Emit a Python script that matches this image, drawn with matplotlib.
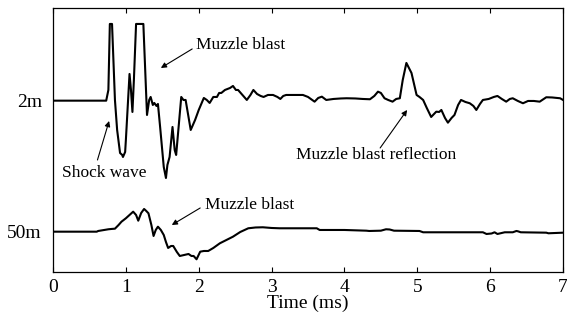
import numpy as np
import matplotlib
matplotlib.use('Agg')
import matplotlib.pyplot as plt

plt.rcParams['font.family'] = ['Liberation Serif', 'DejaVu Serif']

# ── trace at 2 m (time in ms, amplitude relative to baseline) ──
t_2m = [0, 0.73, 0.76, 0.78, 0.81, 0.85, 0.88, 0.92, 0.95, 0.96, 0.99, 1.0,
        1.05, 1.07, 1.09, 1.11, 1.14, 1.24, 1.27, 1.29, 1.32, 1.34, 1.37, 1.39,
        1.42, 1.44, 1.47, 1.52, 1.55, 1.57, 1.6, 1.64, 1.67, 1.69, 1.72, 1.76,
        1.79, 1.82, 1.85, 1.89, 1.92, 1.95, 2.0, 2.04, 2.07, 2.11, 2.15, 2.2,
        2.25, 2.28, 2.31, 2.36, 2.43, 2.47, 2.51, 2.54, 2.6, 2.66, 2.71, 2.75,
        2.8, 2.85, 2.89, 2.95, 3.02, 3.08, 3.12, 3.16, 3.2, 3.3, 3.43, 3.5,
        3.59, 3.64, 3.69, 3.75, 3.85, 3.95, 4.03, 4.15, 4.25, 4.35, 4.41, 4.46,
        4.5, 4.55, 4.6, 4.66, 4.71, 4.76, 4.8, 4.85, 4.92, 4.99, 5.03, 5.08,
        5.13, 5.19, 5.26, 5.3, 5.33, 5.38, 5.42, 5.47, 5.51, 5.56, 5.6, 5.66,
        5.72, 5.77, 5.81, 5.86, 5.9, 5.98, 6.05, 6.1, 6.16, 6.22, 6.27, 6.31,
        6.38, 6.45, 6.52, 6.6, 6.68, 6.77, 6.85, 6.96, 7.0]
a_2m = [0, 0, 10.7, 76.7, 76.7, 0.7, -29.3, -52.3, -54.3, -56.3, -51.3, -39.3,
        26.7, 10.7, -11.3, 20.7, 76.7, 76.7, 20.7, -14.3, 0.7, 3.7, -4.3, -2.3,
        -5.3, -3.3, -26.3, -66.3, -77.3, -64.3, -56.3, -26.3, -49.3, -54.3, -29.3, 3.7,
        0.7, 0.7, -12.3, -29.3, -24.3, -19.3, -9.3, -2.3, 2.7, 0.7, -2.3, 3.7,
        3.7, 7.7, 7.7, 10.7, 12.7, 14.7, 10.7, 10.7, 5.7, 0.7, 5.7, 10.7,
        6.7, 4.7, 3.7, 5.7, 5.7, 3.7, 1.7, 4.7, 5.7, 5.7, 5.7, 3.7,
        -1.0, 2.7, 4.0, 0.7, 1.7, 2.2, 2.4, 2.2, 1.7, 1.4, 4.7, 9.0,
        7.7, 2.4, 0.7, -1.0, 1.7, 2.4, 20.7, 37.7, 27.7, 5.7, 3.7, 0.7,
        -7.3, -16.3, -11.0, -11.3, -9.3, -17.3, -22.0, -17.3, -14.3, -4.3, 0.7, -1.3,
        -2.6, -5.3, -9.3, -3.3, 0.7, 1.7, 3.7, 4.7, 1.7, -1.0, 1.7, 2.4,
        -0.3, -2.6, -0.3, -0.3, -1.0, 3.4, 3.2, 2.4, 0.7]

# ── trace at 50 m ──
t_50m = [0, 0.6, 0.62, 0.76, 0.8, 0.85, 0.9, 0.94, 1.0, 1.05, 1.1, 1.14,
         1.17, 1.21, 1.25, 1.28, 1.31, 1.35, 1.38, 1.41, 1.44, 1.48, 1.52, 1.55,
         1.58, 1.62, 1.65, 1.7, 1.74, 1.8, 1.86, 1.9, 1.93, 1.97, 2.02, 2.07,
         2.13, 2.2, 2.29, 2.38, 2.47, 2.57, 2.68, 2.78, 2.88, 3.0, 3.11, 3.25,
         3.62, 3.66, 4.0, 4.3, 4.34, 4.5, 4.57, 4.62, 4.68, 5.03, 5.08, 5.5,
         5.9, 5.95, 6.02, 6.06, 6.1, 6.2, 6.31, 6.36, 6.38, 6.42, 6.77, 6.8, 7.0]
a_50m = [0, 0, 0.7, 2.4, 2.7, 3.0, 6.7, 10.0, 13.4, 16.7, 20.0, 16.7,
         11.0, 18.7, 22.7, 20.7, 18.4, 6.7, -4.3, 1.7, 5.0, 1.7, -3.3, -10.3,
         -16.3, -14.3, -14.3, -20.3, -24.3, -23.3, -22.3, -24.3, -24.3, -27.6, -20.0, -19.3,
         -19.3, -16.3, -11.6, -8.3, -5.0, -0.3, 3.4, 4.2, 4.4, 3.7, 3.4, 3.4,
         3.4, 1.7, 1.7, 1.0, 0.7, 1.0, 2.4, 2.2, 1.0, 0.7, -0.6, -0.6,
         -0.6, -2.3, -1.8, -0.6, -2.3, -0.6, -0.6, 0.7, 0.4, -0.6, -1.0, -1.6, -1.0]

OFF_2M, OFF_50M = 171.3, 40.3
xticks = [0, 1, 2, 3, 4, 5, 6, 7]

fig = plt.figure(figsize=(5.67, 3.18), dpi=100)
ax = fig.add_axes([0.0935, 0.1447, 0.8995, 0.8303])
ax.plot(t_2m, np.array(a_2m) + OFF_2M, color='k', lw=1.5)
ax.plot(t_50m, np.array(a_50m) + OFF_50M, color='k', lw=1.5)
ax.set_xlim(0, 7)
ax.set_ylim(0, 264)
ax.set_xticks(xticks)
ax.set_yticks([OFF_2M, OFF_50M])
ax.set_yticklabels(['2m', '50m'])
ax.tick_params(axis='x', direction='in', length=3.6, width=0.8, top=True,
               labelsize=14, pad=5)
ax.tick_params(axis='y', length=0, labelsize=14, pad=8)
for s in ax.spines.values():
    s.set_linewidth(0.9)
ax.set_xlabel('Time (ms)', fontsize=14, labelpad=-1)

arr = dict(arrowstyle='-|>', color='k', lw=0.8, mutation_scale=8,
           shrinkA=0, shrinkB=0)
ax.annotate('', xy=(1.48, 204), xytext=(1.91, 223), arrowprops=arr)
ax.text(2.57, 227, 'Muzzle blast', fontsize=12.5, ha='center', va='center')
ax.annotate('', xy=(0.77, 151), xytext=(0.61, 112), arrowprops=arr)
ax.text(0.70, 99, 'Shock wave', fontsize=12.5, ha='center', va='center')
ax.annotate('', xy=(4.86, 162), xytext=(4.49, 124), arrowprops=arr)
ax.text(4.43, 117, 'Muzzle blast reflection', fontsize=12.5, ha='center', va='center')
ax.annotate('', xy=(1.63, 47), xytext=(2.02, 64), arrowprops=arr)
ax.text(2.70, 67, 'Muzzle blast', fontsize=12.5, ha='center', va='center')

fig.savefig('out.png', dpi=100)
